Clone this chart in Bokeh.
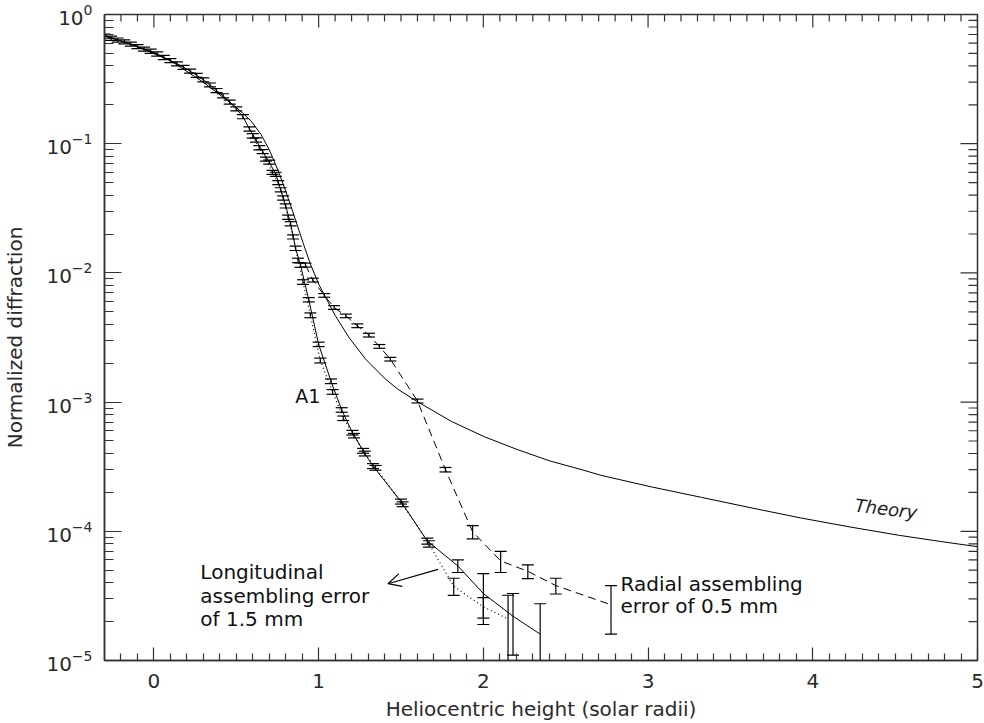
import math
from bokeh.plotting import figure
from bokeh.models import (ColumnDataSource, Whisker, TeeHead, Label, Arrow, OpenHead,
                          FixedTicker, Range1d)
from bokeh.embed import file_html
from bokeh.resources import INLINE

# ---------------- data ----------------
theory_x = [-0.30, -0.11, 0.10, 0.29, 0.49, 0.54, 0.59, 0.65, 0.70, 0.754, 0.80, 0.85, 0.906,
            0.95, 0.975, 1.00, 1.05, 1.10, 1.185, 1.285, 1.405, 1.484, 1.604, 1.805, 2.005,
            2.205, 2.405, 2.605, 2.72, 3.025, 3.325, 3.625, 3.925, 4.226, 4.526, 4.76, 5.00]
theory_y = [0.69, 0.57, 0.44, 0.305, 0.196, 0.172, 0.15, 0.118, 0.09, 0.062, 0.043, 0.028, 0.017,
            0.0117, 9.8e-3, 8.2e-3, 6.2e-3, 4.7e-3, 3.15e-3, 2.15e-3, 1.51e-3, 1.25e-3, 1.0e-3,
            7.1e-4, 5.4e-4, 4.3e-4, 3.5e-4, 2.98e-4, 2.7e-4, 2.2e-4, 1.83e-4, 1.52e-4, 1.27e-4,
            1.08e-4, 9.3e-5, 8.4e-5, 7.6e-5]

a1_x = [-0.30, -0.26, -0.22, -0.18, -0.14, -0.10, -0.06, -0.02, 0.02, 0.06, 0.10, 0.14, 0.18,
        0.22, 0.26, 0.30, 0.34, 0.38, 0.42, 0.46, 0.50, 0.54, 0.58, 0.62, 0.66, 0.70, 0.74,
        0.77, 0.80, 0.83, 0.86, 0.89, 0.94, 1.00, 1.075, 1.14, 1.205, 1.27, 1.33, 1.50, 1.66,
        1.845, 2.00, 2.18, 2.345]
a1_y = [0.68, 0.655, 0.635, 0.615, 0.59, 0.565, 0.54, 0.52, 0.495, 0.465, 0.44, 0.415, 0.39,
        0.365, 0.338, 0.312, 0.285, 0.258, 0.235, 0.21, 0.186, 0.162, 0.13, 0.107, 0.087, 0.072,
        0.058, 0.044, 0.033, 0.024, 0.0155, 0.0115, 0.0062, 0.0028, 0.00145, 0.00087, 0.00058,
        0.00042, 0.00032, 0.00017, 0.000084, 0.000054, 0.000033, 0.000022, 0.000016]
a1_err = [0.025, 0.024, 0.023, 0.022, 0.021, 0.02, 0.02, 0.019, 0.018, 0.017, 0.016, 0.015, 0.014,
          0.013, 0.012, 0.011, 0.010, 0.0095, 0.0085, 0.0075, 0.0068, 0.006, 0.0048, 0.004,
          0.0032, 0.0026, 0.0021, 0.0016, 0.0012, 0.0009, 0.0006, 0.00045, 0.00024, 0.00011,
          0.00006, 0.000035, 0.000024, 0.000018, 0.000014, 0.0000075, 0.0000045, 0.000006,
          0.000014, 0.000011, 0.0000115]

lon_x = [0.60, 0.64, 0.68, 0.72, 0.755, 0.785, 0.815, 0.845, 0.875, 0.905, 0.95, 1.01, 1.085,
         1.15, 1.215, 1.28, 1.345, 1.51, 1.67, 1.82, 2.00, 2.15]
lon_y = [0.115, 0.093, 0.076, 0.060, 0.05, 0.038, 0.027, 0.019, 0.0125, 0.0085, 0.0047, 0.0021,
         0.0012, 0.00075, 0.00055, 0.0004, 0.00031, 0.000162, 0.00008, 0.0000376, 0.000026,
         0.000021]
lon_err = [0.0045, 0.0035, 0.0028, 0.0022, 0.0018, 0.0014, 0.001, 0.0007, 0.0005, 0.00035,
           0.0002, 0.00009, 0.00005, 0.00003, 0.000022, 0.000017, 0.000013, 0.000007,
           0.0000045, 0.0000057, 0.0000047, 0.000011]

rad_x = [0.92, 0.965, 1.034, 1.094, 1.165, 1.235, 1.305, 1.369, 1.435, 1.60, 1.77, 1.935,
         2.105, 2.27, 2.44, 2.775]
rad_y = [0.0115, 0.0088, 0.0067, 0.0054, 0.00465, 0.0039, 0.0033, 0.0027, 0.00215, 0.00102,
         0.0003, 0.000099, 0.000059, 0.000049, 0.000038, 0.000027]
rad_err = [0.0004, 0.0003, 0.00022, 0.00018, 0.00015, 0.00013, 0.00011, 0.00009, 0.00007,
           0.000035, 0.000012, 0.0000115, 0.000011, 0.000006, 0.0000053, 0.000011]

x_ticks = [0, 1, 2, 3, 4, 5]
y_ticks = [1e-5, 1e-4, 1e-3, 1e-2, 1e-1, 1.0]

FONT = "DejaVu Sans"
AX = "#333333"
X0, X1, Y0, Y1 = -0.3, 5.0, 1e-5, 1.0

p = figure(width=984, height=723, output_backend="svg", toolbar_location=None,
           x_range=Range1d(X0, X1), y_range=Range1d(Y0, Y1), y_axis_type="log",
           min_border_left=95, min_border_right=7, min_border_top=14, min_border_bottom=63,
           x_axis_label="Heliocentric height (solar radii)",
           y_axis_label="Normalized diffraction")
p.xgrid.visible = False
p.ygrid.visible = False
p.outline_line_color = AX
p.outline_line_width = 1.5
p.background_fill_color = "white"
p.border_fill_color = "white"

x_minor = [i / 10 for i in range(-2, 50) if i % 10 != 0]
y_minor = [m * t for t in y_ticks[:-1] for m in range(2, 10)]


def style(ax, maj, mnr):
    ax.major_tick_in = maj
    ax.major_tick_out = 0
    ax.minor_tick_in = mnr
    ax.minor_tick_out = 0
    ax.axis_line_color = AX
    ax.axis_line_width = 1.5
    ax.major_tick_line_color = AX
    ax.minor_tick_line_color = AX
    ax.major_tick_line_width = 1.2
    ax.minor_tick_line_width = 1.2
    ax.major_label_text_font = FONT
    ax.major_label_text_font_size = "20px"
    ax.major_label_text_color = "#2a2a2a"
    ax.axis_label_text_font = FONT
    ax.axis_label_text_font_size = "20px"
    ax.axis_label_text_font_style = "normal"
    ax.axis_label_text_color = "#2a2a2a"


xax = p.xaxis[0]
xax.ticker = FixedTicker(ticks=x_ticks, minor_ticks=x_minor)
style(xax, 13, 7)
xax.major_label_standoff = 13
xax.axis_label_standoff = 6

yax = p.yaxis[0]
yax.ticker = FixedTicker(ticks=y_ticks, minor_ticks=y_minor)
style(yax, 17, 9)
yax.major_label_standoff = 12
yax.axis_label_standoff = 16

# mirrored ticks on the top and right edges of the box
p.ray(x=x_ticks, y=[Y1] * len(x_ticks), length=13, length_units="screen",
      angle=-math.pi / 2, line_color=AX, line_width=1.2)
p.ray(x=x_minor, y=[Y1] * len(x_minor), length=7, length_units="screen",
      angle=-math.pi / 2, line_color=AX, line_width=1.2)
p.ray(x=[X1] * len(y_ticks), y=y_ticks, length=17, length_units="screen",
      angle=math.pi, line_color=AX, line_width=1.2)
p.ray(x=[X1] * len(y_minor), y=y_minor, length=9, length_units="screen",
      angle=math.pi, line_color=AX, line_width=1.2)

# ---------------- curves ----------------
p.line(theory_x, theory_y, line_color="black", line_width=1)
p.line(a1_x, a1_y, line_color="black", line_width=1)
p.line(lon_x, lon_y, line_color="black", line_width=1.2, line_dash="1 3")
p.line(rad_x, rad_y, line_color="black", line_width=1, line_dash="8 5")


def bars(xs, ys, es):
    src = ColumnDataSource(dict(x=xs,
                                lower=[y - e for y, e in zip(ys, es)],
                                upper=[y + e for y, e in zip(ys, es)]))
    w = Whisker(source=src, base="x", lower="lower", upper="upper",
                line_color="black", line_width=1.2,
                upper_head=TeeHead(size=12, line_color="black", line_width=1.2),
                lower_head=TeeHead(size=12, line_color="black", line_width=1.2))
    p.add_layout(w)


bars(a1_x, a1_y, a1_err)
bars(lon_x, lon_y, lon_err)
bars(rad_x, rad_y, rad_err)


# ---------------- annotations ----------------
def lab(x, y, t, size="20px", style_="normal", angle=0.0, color="#111111"):
    p.add_layout(Label(x=x, y=y, text=t, text_font=FONT, text_font_size=size,
                       text_font_style=style_, text_color=color, angle=angle,
                       text_baseline="alphabetic", text_align="left"))


lab(0.858, 1.12e-3, "A1", size="19px")
lab(0.282, 4.85e-5, "Longitudinal")
lab(0.282, 3.16e-5, "assembling error")
lab(0.282, 2.08e-5, "of 1.5 mm")
lab(2.833, 3.93e-5, "Radial assembling")
lab(2.833, 2.65e-5, "error of 0.5 mm")
lab(4.256, 1.6e-4, "Theory", size="18px", style_="italic", angle=-0.12, color="#222222")

p.add_layout(Arrow(end=OpenHead(size=13, line_color="black", line_width=1.2),
                   x_start=1.725, y_start=5.07e-5, x_end=1.421, y_end=3.93e-5,
                   line_color="black", line_width=1.2))

open("out.html", "w").write(file_html(p, INLINE))
